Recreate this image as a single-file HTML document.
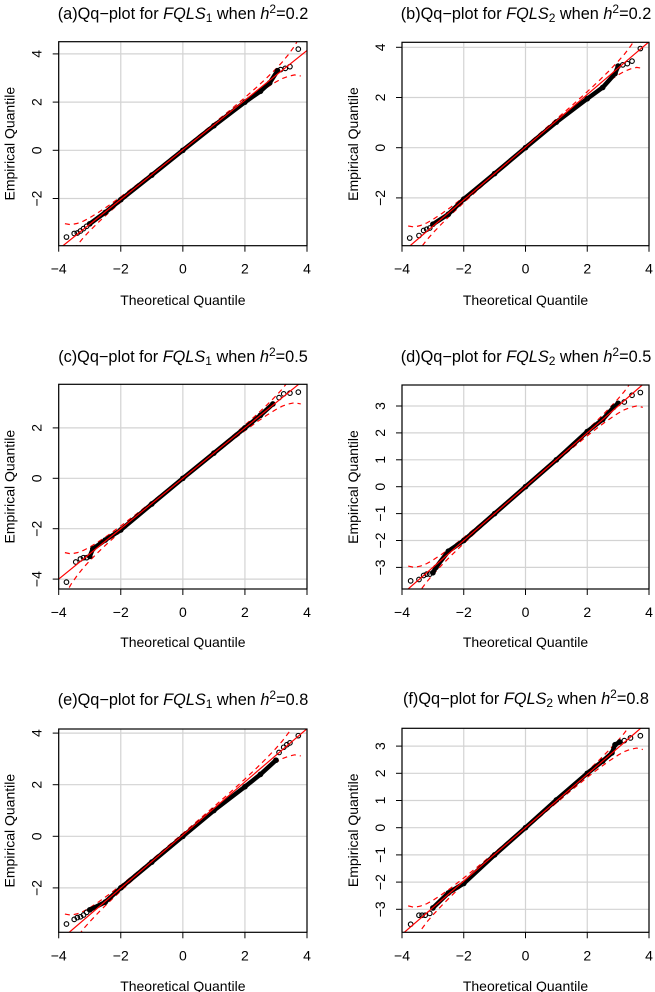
<!DOCTYPE html>
<html><head><meta charset="utf-8"><style>
html,body{margin:0;padding:0;background:#fff;}
svg{display:block;font-family:"Liberation Sans",Arial,sans-serif;}
</style></head><body>
<svg id="fig" width="655" height="992" viewBox="0 0 655 992" xmlns="http://www.w3.org/2000/svg"></svg>
<script>
// ---- data (theoretical quantile, empirical quantile) ----
const theoA=[-3.75,-3.5,-3.4,-3.3,-3.2,-3.1,-3.0,-2.5,-2.0,-1.0,0,1.0,2.0,2.5,2.8,3.05,3.15,3.3,3.45,3.72];
const empA=[-3.6,-3.45,-3.43,-3.35,-3.25,-3.15,-3.05,-2.58,-2.05,-1.03,0,1.02,2.0,2.45,2.8,3.3,3.35,3.4,3.47,4.2];
const theoB=[-3.75,-3.45,-3.3,-3.2,-3.1,-3.0,-2.5,-2.0,-1.0,0,1.0,2.0,2.5,2.9,3.0,3.15,3.3,3.45,3.72];
const empB=[-3.6,-3.5,-3.3,-3.25,-3.2,-3.05,-2.65,-2.05,-1.03,0,1.02,1.95,2.4,2.95,3.25,3.3,3.35,3.45,3.95];
const theoC=[-3.75,-3.45,-3.3,-3.2,-3.1,-3.0,-2.9,-2.5,-2.0,-1.0,0,1.0,2.0,2.5,2.9,3.1,3.25,3.45,3.72];
const empC=[-4.12,-3.32,-3.2,-3.15,-3.15,-3.1,-2.8,-2.45,-2.05,-1.02,0,1.0,2.0,2.5,2.95,3.2,3.35,3.38,3.42];
const theoD=[-3.72,-3.45,-3.3,-3.2,-3.1,-3.0,-2.9,-2.5,-2.0,-1.0,0,1.0,2.0,2.5,2.85,3.0,3.2,3.45,3.72];
const empD=[-3.5,-3.45,-3.3,-3.25,-3.25,-3.2,-3.0,-2.4,-2.0,-1.0,0,1.0,2.05,2.5,2.95,3.1,3.15,3.4,3.5];
const theoE=[-3.75,-3.5,-3.4,-3.3,-3.2,-3.1,-3.0,-2.5,-2.0,-1.0,0,1.0,2.0,2.5,3.0,3.1,3.25,3.35,3.45,3.72];
const empE=[-3.4,-3.22,-3.15,-3.12,-3.05,-2.95,-2.85,-2.55,-2.0,-1.0,0,1.0,1.92,2.4,2.95,3.25,3.45,3.55,3.62,3.9];
const theoF=[-3.72,-3.45,-3.35,-3.25,-3.1,-3.0,-2.5,-2.0,-1.0,0,1.0,2.0,2.5,2.8,2.9,3.05,3.2,3.4,3.72];
const empF=[-3.55,-3.22,-3.22,-3.22,-3.15,-2.95,-2.4,-2.05,-1.0,0,1.02,2.0,2.45,2.75,3.05,3.15,3.2,3.3,3.38];
// envelope half-widths along theoretical quantile
const envX=[-3.8,-3.6,-3.4,-3.2,-3.0,-2.7,-2.4,-2.0,-1.5,-1.0,0,1.0,1.5,2.0,2.4,2.7,3.0,3.2,3.4,3.6,3.8];
const envHW=[0.85,0.6,0.45,0.34,0.27,0.2,0.15,0.11,0.08,0.07,0.06,0.07,0.08,0.11,0.15,0.2,0.27,0.34,0.45,0.6,0.85];
// reference line [intercept, slope]
const lineA=[0.02,1.03], lineB=[0.02,1.05], lineC=[0.0,1.0], lineD=[0.0,1.0], lineE=[0.05,1.03], lineF=[0.0,0.98];
const xTicks=[-4,-2,0,2,4];
const yTicksA=[-2,0,2,4], yTicksB=[-2,0,2,4], yTicksC=[-4,-2,0,2], yTicksD=[-3,-2,-1,0,1,2,3], yTicksE=[-2,0,2,4], yTicksF=[-3,-2,-1,0,1,2,3];

const panels=[
 {id:'a',stat:'1',h:'0.2',L:58.7,R:307,T:41.7,B:245.7,y0:150.3,pu:24.1,tx:183,ty:19,xl:300,yt:yTicksA,th:theoA,em:empA,ln:lineA},
 {id:'b',stat:'2',h:'0.2',L:402,R:649,T:42.3,B:245.7,y0:147.7,pu:25.1,tx:526,ty:19,xl:300,yt:yTicksB,th:theoB,em:empB,ln:lineB},
 {id:'c',stat:'1',h:'0.5',L:58.7,R:307,T:384.3,B:589,y0:478.3,pu:25.2,tx:183,ty:362,xl:642,yt:yTicksC,th:theoC,em:empC,ln:lineC},
 {id:'d',stat:'2',h:'0.5',L:402,R:649,T:385,B:589,y0:486.7,pu:26.9,tx:526,ty:362,xl:642,yt:yTicksD,th:theoD,em:empD,ln:lineD},
 {id:'e',stat:'1',h:'0.8',L:58.7,R:307,T:729,B:932.3,y0:836.3,pu:25.8,tx:183,ty:705,xl:986,yt:yTicksE,th:theoE,em:empE,ln:lineE},
 {id:'f',stat:'2',h:'0.8',L:402,R:649,T:728.3,B:932.3,y0:827.7,pu:27.2,tx:526,ty:704,xl:986,yt:yTicksF,th:theoF,em:empF,ln:lineF}
];
const NS='http://www.w3.org/2000/svg';
const svg=document.getElementById('fig');
function mk(tag,attrs,parent){const e=document.createElementNS(NS,tag);for(const k in attrs)e.setAttribute(k,attrs[k]);(parent||svg).appendChild(e);return e;}
panels.forEach(p=>{
  const g=mk('g',{});
  
  
  const sx=v=>p.L+(v+4)/8*(p.R-p.L);
  const sy=v=>p.y0-v*p.pu;
  const cp='clip'+p.id;
  const defs=mk('defs',{},g);const clip=mk('clipPath',{id:cp},defs);mk('rect',{x:p.L,y:p.T,width:p.R-p.L,height:p.B-p.T},clip);
  const t=mk('text',{x:p.tx,y:p.ty,'text-anchor':'middle','font-size':'16.3',fill:'#000'},g);
  
  
  t.innerHTML='('+p.id+')Qq\u2212plot for <tspan font-style="italic">FQLS</tspan><tspan font-size="12" dy="3">'+p.stat+'</tspan><tspan dy="-3"> when </tspan><tspan font-style="italic">h</tspan><tspan font-size="12" dy="-6">2</tspan><tspan dy="6">='+p.h+'</tspan>';
  const grid=mk('g',{stroke:'#d3d3d3','stroke-width':'1.2'},g);
  
  
  xTicks.forEach(v=>mk('line',{x1:sx(v),x2:sx(v),y1:p.T,y2:p.B},grid));
  p.yt.forEach(v=>mk('line',{x1:p.L,x2:p.R,y1:sy(v),y2:sy(v)},grid));
  const pl=mk('g',{'clip-path':'url(#'+cp+')'},g);
  ['up','lo'].forEach((side,si)=>{
    const pts=envX.map((x,i)=>sx(x)+','+sy(p.ln[0]+p.ln[1]*x+(si?-1:1)*envHW[i]));
    const e=mk('polyline',{points:pts.join(' '),fill:'none',stroke:'#ff0000','stroke-width':'1.2','stroke-dasharray':'5,4'},pl);
    
    
  });
  const bodyPts=[];
  p.th.forEach((x,i)=>{ if(x>=-3.05 && x<=3.05) bodyPts.push(sx(x)+','+sy(p.em[i])); });
  const body=mk('polyline',{points:bodyPts.join(' '),fill:'none',stroke:'#000','stroke-width':'4.5','stroke-linejoin':'round','stroke-linecap':'round'},pl);
  
  
  p.th.forEach((x,i)=>{
    const c=mk('circle',{cx:sx(x),cy:sy(p.em[i]),r:2.3,fill:'none',stroke:'#000','stroke-width':'1.1'},pl);
    
    
  });
  const rl=mk('line',{x1:sx(-4.5),y1:sy(p.ln[0]+p.ln[1]*-4.5),x2:sx(4.5),y2:sy(p.ln[0]+p.ln[1]*4.5),stroke:'#ff0000','stroke-width':'1.2'},pl);
  
  
  const box=mk('rect',{x:p.L,y:p.T,width:p.R-p.L,height:p.B-p.T,fill:'none',stroke:'#000','stroke-width':'1.2'},g);
  
  
  xTicks.forEach(v=>{
    mk('line',{x1:sx(v),x2:sx(v),y1:p.B,y2:p.B+6,stroke:'#000','stroke-width':'1'},g);
    const l=mk('text',{x:sx(v),y:p.B+28,'text-anchor':'middle','font-size':'14',fill:'#000'},g);
    
    
    l.textContent=(v<0?'\u2212':'')+Math.abs(v);
  });
  p.yt.forEach(v=>{
    mk('line',{x1:p.L-6,x2:p.L,y1:sy(v),y2:sy(v),stroke:'#000','stroke-width':'1'},g);
    const X=p.L-17,Y=sy(v);
    const l=mk('text',{x:X,y:Y,'text-anchor':'middle','font-size':'14',fill:'#000',transform:'rotate(-90 '+X+' '+Y+')'},g);
    
    
    l.textContent=(v<0?'\u2212':'')+Math.abs(v);
  });
  const xl=mk('text',{x:(p.L+p.R)/2,y:p.xl+5,'text-anchor':'middle','font-size':'14',fill:'#000'},g);
  
  
  xl.textContent='Theoretical Quantile';
  const YX=p.L-44,YY=(p.T+p.B)/2;
  const yl=mk('text',{x:YX,y:YY,'text-anchor':'middle','font-size':'14',fill:'#000',transform:'rotate(-90 '+YX+' '+YY+')'},g);
  
  
  yl.textContent='Empirical Quantile';
});
</script>
</body></html>
